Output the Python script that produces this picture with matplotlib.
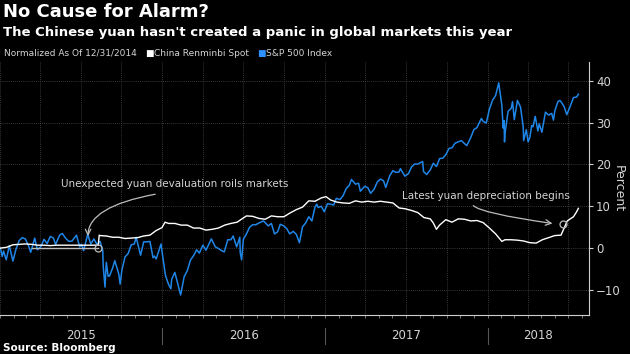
import matplotlib
matplotlib.use("Agg")
import matplotlib.pyplot as plt
import matplotlib.dates as mdates
import pandas as pd

# S&P 500, % change vs 12/31/2014
spx_dates = [
    "2015-01-02", "2015-01-06", "2015-01-09", "2015-01-15", "2015-01-22", "2015-01-30",
    "2015-02-06", "2015-02-13", "2015-02-20", "2015-02-27", "2015-03-06", "2015-03-11",
    "2015-03-20", "2015-03-26", "2015-04-03", "2015-04-10", "2015-04-17", "2015-04-24",
    "2015-05-01", "2015-05-06", "2015-05-15", "2015-05-21", "2015-05-29", "2015-06-05",
    "2015-06-12", "2015-06-22", "2015-06-29", "2015-07-03", "2015-07-08", "2015-07-17",
    "2015-07-24", "2015-07-31", "2015-08-07", "2015-08-14", "2015-08-20", "2015-08-21",
    "2015-08-24", "2015-08-25", "2015-08-28", "2015-09-01", "2015-09-04", "2015-09-11",
    "2015-09-16", "2015-09-25", "2015-09-28", "2015-10-02", "2015-10-09", "2015-10-16",
    "2015-10-23", "2015-10-30", "2015-11-03", "2015-11-13", "2015-11-20", "2015-11-27",
    "2015-12-04", "2015-12-11", "2015-12-14", "2015-12-18", "2015-12-29", "2015-12-31",
    "2016-01-08", "2016-01-15", "2016-01-20", "2016-01-22", "2016-01-29", "2016-02-05",
    "2016-02-11", "2016-02-19", "2016-02-26", "2016-03-04", "2016-03-11", "2016-03-18",
    "2016-03-24", "2016-04-01", "2016-04-08", "2016-04-15", "2016-04-20", "2016-04-29",
    "2016-05-06", "2016-05-13", "2016-05-19", "2016-05-27", "2016-06-03", "2016-06-08",
    "2016-06-16", "2016-06-23", "2016-06-24", "2016-06-27", "2016-07-01", "2016-07-08",
    "2016-07-15", "2016-07-22", "2016-07-29", "2016-08-05", "2016-08-15", "2016-08-19",
    "2016-08-26", "2016-09-02", "2016-09-09", "2016-09-16", "2016-09-22", "2016-09-30",
    "2016-10-07", "2016-10-13", "2016-10-21", "2016-10-28", "2016-11-04", "2016-11-11",
    "2016-11-18", "2016-11-25", "2016-12-02", "2016-12-09", "2016-12-13", "2016-12-16",
    "2016-12-23", "2016-12-30",
    "2017-01-06", "2017-01-13", "2017-01-20", "2017-01-26", "2017-02-03", "2017-02-10",
    "2017-02-17", "2017-02-24", "2017-03-01", "2017-03-10", "2017-03-17", "2017-03-21",
    "2017-03-31", "2017-04-07", "2017-04-13", "2017-04-21", "2017-04-28", "2017-05-05",
    "2017-05-12", "2017-05-17", "2017-05-26", "2017-06-02", "2017-06-09", "2017-06-16",
    "2017-06-19", "2017-06-29", "2017-07-07", "2017-07-14", "2017-07-21", "2017-07-28",
    "2017-08-08", "2017-08-10", "2017-08-17", "2017-08-25", "2017-09-01", "2017-09-08",
    "2017-09-15", "2017-09-22", "2017-09-29", "2017-10-06", "2017-10-13", "2017-10-20",
    "2017-10-27", "2017-11-03", "2017-11-15", "2017-11-24", "2017-12-01", "2017-12-08",
    "2017-12-18", "2017-12-22", "2017-12-29",
    "2018-01-05", "2018-01-12", "2018-01-19", "2018-01-26", "2018-02-02", "2018-02-05",
    "2018-02-07", "2018-02-08", "2018-02-09", "2018-02-16", "2018-02-23", "2018-02-26",
    "2018-03-02", "2018-03-09", "2018-03-16", "2018-03-22", "2018-03-23", "2018-03-29",
    "2018-04-02", "2018-04-06", "2018-04-10", "2018-04-13", "2018-04-18", "2018-04-24",
    "2018-04-27", "2018-05-03", "2018-05-11", "2018-05-18", "2018-05-25", "2018-05-29",
    "2018-06-01", "2018-06-08", "2018-06-12", "2018-06-15", "2018-06-22", "2018-06-28",
    "2018-07-06", "2018-07-13", "2018-07-20", "2018-07-24",
]
spx_pct = [
    0.0, -2.0, -0.7, -2.8, 0.6, -3.1,
    -0.2, 1.8, 2.5, 2.2, 0.6, -1.0,
    2.4, -0.4, 0.4, 2.1, 1.1, 2.8,
    2.4, 0.9, 3.1, 3.5, 2.3, 1.6,
    1.7, 3.1, 0.3, 0.9, -0.6, 3.3,
    1.0, 2.2, 0.9, 1.6, -0.6, -4.3,
    -8.1, -9.3, -3.4, -6.7, -6.7, -4.8,
    -3.0, -6.2, -8.6, -5.2, -2.1, -1.3,
    0.8, 1.0, 2.6, -1.7, 1.5, 1.5,
    1.6, -2.3, -1.9, -2.6, 1.0, -0.7,
    -6.6, -8.7, -9.7, -7.4, -5.8, -8.7,
    -11.2, -6.8, -5.4, -2.9, -1.8, -0.4,
    -1.2, 0.7, -0.5, 1.1, 2.2, 0.3,
    -0.1, -0.6, -0.9, 2.0, 2.0, 2.9,
    0.3, 2.6, -1.1, -2.8, 2.1, 3.4,
    5.0, 5.6, 5.6, 6.0, 6.5, 6.1,
    5.3, 5.9, 3.4, 3.9, 5.7, 5.3,
    4.6, 3.4, 4.0, 3.3, 1.3, 5.1,
    6.0, 7.5, 6.5, 9.8, 10.5, 9.7,
    10.0, 8.7,
    10.6, 10.5, 10.3, 11.9, 11.6, 12.5,
    14.2, 15.0, 16.4, 15.3, 15.5, 13.6,
    14.8, 14.4, 13.1, 14.1, 15.8, 16.5,
    16.1, 14.5, 17.3, 18.5, 18.1, 18.2,
    19.0, 17.2, 17.8, 19.4, 20.1, 20.1,
    20.7, 18.3, 17.6, 18.7, 20.3, 19.5,
    21.4, 21.5, 22.3, 23.8, 24.0, 25.1,
    25.4, 25.7, 24.5, 26.4, 28.3, 28.8,
    31.0, 30.3, 29.9,
    33.2, 35.3, 36.5, 39.5, 34.1, 28.7,
    30.5, 25.4, 27.3, 32.7, 33.4, 35.0,
    30.7, 35.3, 33.7, 29.0, 25.7, 28.3,
    25.4, 26.5, 29.3, 29.0, 31.5, 28.0,
    29.7, 27.7, 32.5, 31.8, 32.2, 30.6,
    32.8, 35.0, 35.3, 35.0, 33.8, 31.9,
    34.0, 36.0, 36.1, 36.8,
]

# China renminbi spot, % change vs 12/31/2014
cny_dates = [
    "2015-01-02", "2015-01-16", "2015-01-30", "2015-02-13", "2015-02-27", "2015-03-13",
    "2015-03-27", "2015-04-10", "2015-04-24", "2015-05-08", "2015-05-22", "2015-06-05",
    "2015-06-19", "2015-07-03", "2015-07-17", "2015-07-31", "2015-08-10", "2015-08-11",
    "2015-08-12", "2015-08-14", "2015-08-28", "2015-09-11", "2015-09-25", "2015-10-09",
    "2015-10-23", "2015-11-06", "2015-11-20", "2015-12-04", "2015-12-18", "2015-12-31",
    "2016-01-07", "2016-01-15", "2016-01-29", "2016-02-12", "2016-02-26", "2016-03-11",
    "2016-03-25", "2016-04-08", "2016-04-22", "2016-05-06", "2016-05-20", "2016-06-03",
    "2016-06-17", "2016-06-28", "2016-07-08", "2016-07-22", "2016-08-05", "2016-08-19",
    "2016-09-02", "2016-09-16", "2016-09-30", "2016-10-14", "2016-10-28", "2016-11-11",
    "2016-11-25", "2016-12-09", "2016-12-23",
    "2017-01-03", "2017-01-13", "2017-01-27", "2017-02-10", "2017-02-24", "2017-03-10",
    "2017-03-24", "2017-04-07", "2017-04-21", "2017-05-05", "2017-05-19", "2017-06-02",
    "2017-06-16", "2017-06-30", "2017-07-14", "2017-07-28", "2017-08-11", "2017-08-25",
    "2017-09-01", "2017-09-08", "2017-09-15", "2017-09-29", "2017-10-13", "2017-10-27",
    "2017-11-10", "2017-11-24", "2017-12-08", "2017-12-22",
    "2018-01-05", "2018-01-19", "2018-02-02", "2018-02-09", "2018-02-23", "2018-03-09",
    "2018-03-23", "2018-04-06", "2018-04-20", "2018-05-04", "2018-05-18", "2018-06-01",
    "2018-06-15", "2018-06-22", "2018-06-29", "2018-07-06", "2018-07-13", "2018-07-19",
    "2018-07-24",
]
cny_pct = [
    0.0, 0.2, 0.8, 0.9, 1.0, 0.9,
    0.7, 0.7, 0.6, 0.7, 0.7, 0.7,
    0.7, 0.7, 0.7, 0.7, 0.7, 2.0,
    3.1, 3.0, 2.9, 2.6, 2.6, 2.3,
    2.4, 2.5, 2.9, 3.1, 4.2, 4.9,
    6.2, 5.9, 5.9, 5.5, 5.5, 4.8,
    4.8, 4.3, 4.5, 4.8, 5.5, 5.9,
    6.2, 7.0, 7.7, 7.6, 7.1, 6.9,
    7.7, 7.5, 7.5, 8.4, 9.2, 9.8,
    11.3, 11.2, 12.0,
    12.3, 11.5, 11.0, 10.8, 10.7, 11.3,
    11.0, 11.2, 11.0, 11.2, 11.0, 10.8,
    9.6, 9.4, 9.0, 8.5, 7.3, 7.0,
    6.0, 4.5, 5.5, 6.8, 6.2, 7.0,
    6.9, 6.5, 6.6, 6.1,
    4.8, 3.4, 1.6, 2.0, 2.0, 1.9,
    1.7, 1.3, 1.2, 2.0, 2.5, 3.0,
    3.1, 4.8, 6.5, 7.0, 7.5, 8.5,
    9.5,
]

year_labels = ["2015", "2016", "2017", "2018"]
y_ticks = [-10, 0, 10, 20, 30, 40]

BG = "black"
BLUE = "#1f86e8"
GRID = "#4a4a4a"
TXT = "#d4d4d4"
ANN = "#bdbdbd"

spx_t = pd.to_datetime(spx_dates)
cny_t = pd.to_datetime(cny_dates)

fig = plt.figure(figsize=(6.3, 3.54), dpi=100, facecolor=BG)
ax = fig.add_axes([0.0, 0.11, 0.935, 0.715], facecolor=BG)

ax.plot(spx_t, spx_pct, color=BLUE, lw=1.1, zorder=3)
ax.plot(cny_t, cny_pct, color="white", lw=1.0, zorder=4)

x0, x1 = pd.Timestamp("2015-01-01"), pd.Timestamp("2018-08-17")
ax.set_xlim(x0, x1)
ax.set_ylim(-16, 44.5)

# axes / ticks
for s in ("left", "top"):
    ax.spines[s].set_visible(False)
for s in ("right", "bottom"):
    ax.spines[s].set_color("#cfcfcf")
    ax.spines[s].set_linewidth(0.8)
ax.yaxis.tick_right()
ax.set_yticks(y_ticks)
ax.tick_params(axis="y", colors="#cfcfcf", labelcolor=TXT, labelsize=8.5,
               length=3, width=0.8, pad=2)
ax.xaxis.set_major_locator(mdates.MonthLocator(bymonth=[1, 4, 7, 10]))
ax.xaxis.set_minor_locator(mdates.MonthLocator())
ax.tick_params(axis="x", which="both", labelbottom=False, colors="#8a8a8a",
               length=2.5, width=0.6)
ax.grid(True, which="major", color=GRID, ls=(0, (1, 1.5)), lw=0.6)
ax.set_ylabel("Percent", color=TXT, fontsize=9, rotation=270, labelpad=3)
ax.yaxis.set_label_position("right")

# year labels and separators under the axis
xt = ax.get_xaxis_transform()
for i, lab in enumerate(year_labels):
    a = pd.Timestamp(f"{lab}-01-01")
    b = min(pd.Timestamp(f"{int(lab) + 1}-01-01"), x1)
    ax.text(a + (b - a) / 2, -0.08, lab, transform=xt, ha="center", va="center",
            color=TXT, fontsize=8.5)
    if i > 0:
        ax.plot([a, a], [-0.05, -0.115], transform=xt, color="#555555", lw=0.8,
                clip_on=False)

# annotations
ax.text(pd.Timestamp("2016-01-28"), 15.3, "Unexpected yuan devaluation roils markets",
        color=TXT, fontsize=7.5, ha="center", va="center")
ax.annotate("", xy=(pd.Timestamp("2015-07-18"), 2.2), xytext=(pd.Timestamp("2015-12-22"), 13.0),
            arrowprops=dict(arrowstyle="->", color=ANN, lw=0.9,
                            connectionstyle="angle3,angleA=10,angleB=95"))
ax.plot([pd.Timestamp("2015-03-15"), pd.Timestamp("2015-08-10")], [0, 0], color=ANN, lw=1.0, zorder=4)
ax.plot([pd.Timestamp("2015-08-10")], [0], marker="o", ms=5, mfc="none", mec=ANN, mew=0.9, zorder=5)

ax.text(pd.Timestamp("2017-12-28"), 12.5, "Latest yuan depreciation begins",
        color=TXT, fontsize=7.5, ha="center", va="center")
ax.annotate("", xy=(pd.Timestamp("2018-06-02"), 5.8), xytext=(pd.Timestamp("2017-11-28"), 10.8),
            arrowprops=dict(arrowstyle="->", color=ANN, lw=0.9,
                            connectionstyle="angle3,angleA=-115,angleB=-8"))
ax.plot([pd.Timestamp("2018-06-20")], [5.7], marker="o", ms=5, mfc="none", mec=ANN, mew=0.9, zorder=5)

# titles, legend, source
fig.text(0.004, 0.965, "No Cause for Alarm?", color="white", fontsize=13,
         fontweight="bold", va="center")
fig.text(0.004, 0.908, "The Chinese yuan hasn't created a panic in global markets this year",
         color="white", fontsize=9.5, fontweight="bold", va="center")
fig.text(0.006, 0.85, "Normalized As Of 12/31/2014", color=TXT, fontsize=6.5, va="center")
fig.text(0.230, 0.85, "■", color="white", fontsize=6.5, va="center")
fig.text(0.244, 0.85, "China Renminbi Spot", color=TXT, fontsize=6.5, va="center")
fig.text(0.408, 0.85, "■", color="#2f8fff", fontsize=6.5, va="center")
fig.text(0.422, 0.85, "S&P 500 Index", color=TXT, fontsize=6.5, va="center")
fig.text(0.004, 0.017, "Source: Bloomberg", color="white", fontsize=7.5,
         fontweight="bold", va="center")

fig.savefig("out.png", dpi=100, facecolor=BG)
